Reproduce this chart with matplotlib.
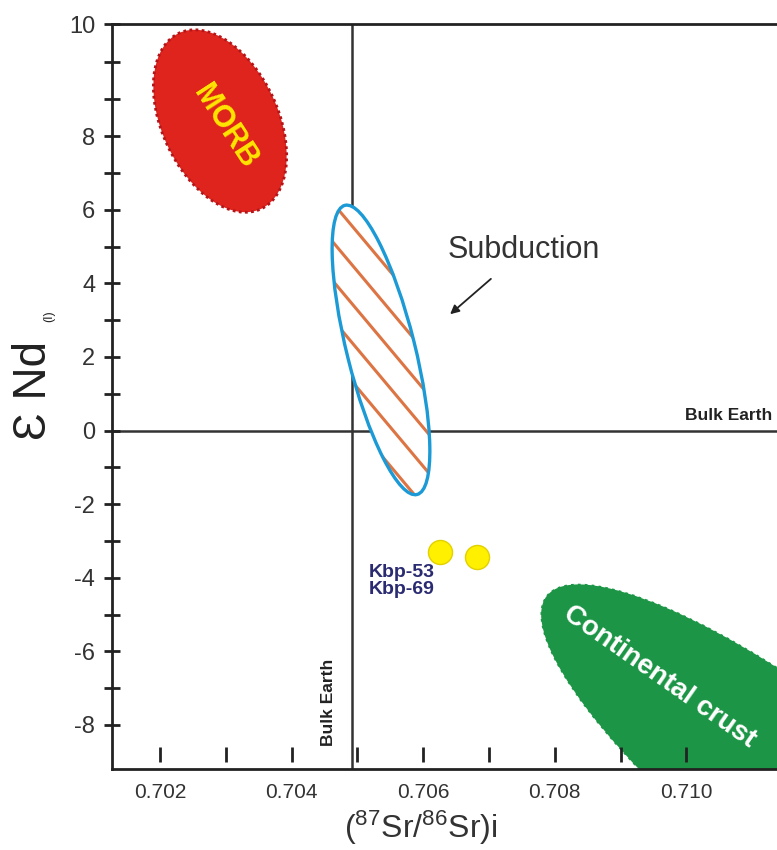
import matplotlib
matplotlib.use("Agg")
import matplotlib.pyplot as plt
import numpy as np
from matplotlib.patches import Ellipse
from matplotlib.transforms import ScaledTranslation

plt.rcParams["font.family"] = ["Liberation Sans", "DejaVu Sans"]
plt.rcParams["axes.unicode_minus"] = False
plt.rcParams["mathtext.fontset"] = "custom"
plt.rcParams["mathtext.rm"] = "Liberation Sans"
plt.rcParams["mathtext.default"] = "regular"

# samples
sr_ratio = [0.706255, 0.706822]
eps_nd = [-3.29, -3.45]
sample_labels = ["Kbp-53", "Kbp-69"]
sample_label_y = [-3.85, -4.33]

# bulk earth reference
bulk_earth_sr = 0.704913
bulk_earth_nd = 0.0

# fields: centre (sr, nd), size in inches (major, minor), angle in degrees
morb_center = (0.702911, 8.41)
morb_size = (1.94, 1.16)
morb_angle = 115
subd_center = (0.705358, 2.19)
subd_size = (2.98, 0.68)
subd_angle = 104
crust_center = (0.712062, -10.34)
crust_size = (7.0, 1.84)
crust_angle = -38

# axis ticks
x_marks = [0.702, 0.703, 0.704, 0.705, 0.706, 0.707, 0.708, 0.709, 0.710]
x_labels = [0.702, 0.704, 0.706, 0.708, 0.710]
y_major = [-8, -6, -4, -2, 0, 2, 4, 6, 8]
y_minor = [-7, -5, -3, -1, 1, 3, 5, 7, 9, 10]
xlim = (0.701269, 0.711378)
ylim = (-9.198, 11.046)

fig = plt.figure(figsize=(7.77, 8.5), dpi=100)
ax = fig.add_axes([0.14414, 0.09529, 0.85586, 0.87647])
ax.set_xlim(*xlim)
ax.set_ylim(*ylim)


def place(center):
    return fig.dpi_scale_trans + ScaledTranslation(center[0], center[1], ax.transData)


# bulk earth lines
ax.axvline(bulk_earth_sr, color="#333333", lw=1.8, zorder=1)
ax.axhline(bulk_earth_nd, color="#333333", lw=1.8, zorder=1)

# MORB
morb = Ellipse((0, 0), *morb_size, angle=morb_angle, transform=place(morb_center),
               facecolor="#de241c", edgecolor="#b3151a", lw=2, ls=(0, (1, 1.2)), zorder=2)
ax.add_patch(morb)
ax.text(0.702987, 8.25, "MORB", color="#ffe600", fontsize=22, fontweight="bold",
        rotation=-57, ha="center", va="center", rotation_mode="anchor", zorder=3)

# continental crust
crust = Ellipse((0, 0), *crust_size, angle=crust_angle, transform=place(crust_center),
                facecolor="#1c9646", edgecolor="white", lw=1, ls=(0, (3, 2)), zorder=2)
ax.add_patch(crust)
ax.text(0.709586, -6.70, "Continental crust", color="white", fontsize=20, fontweight="bold",
        rotation=-35, ha="center", va="center", rotation_mode="anchor", zorder=3)

# subduction field with hand-drawn hatching
subd = Ellipse((0, 0), *subd_size, angle=subd_angle, transform=place(subd_center),
               facecolor="white", edgecolor="none", zorder=2)
ax.add_patch(subd)
d = np.array([np.cos(np.radians(-50)), np.sin(np.radians(-50))])
n = np.array([-d[1], d[0]])
for k in np.arange(-8, 9):
    p0 = (k + 0.3) * 0.25 * n - 2 * d
    p1 = (k + 0.3) * 0.25 * n + 2 * d
    ln, = ax.plot([p0[0], p1[0]], [p0[1], p1[1]], color="#dd7443", lw=2.2,
                  transform=place(subd_center), zorder=2.5)
    ln.set_clip_path(subd)
subd_edge = Ellipse((0, 0), *subd_size, angle=subd_angle, transform=place(subd_center),
                    facecolor="none", edgecolor="#1b9ad6", lw=2.4, zorder=3)
ax.add_patch(subd_edge)

ax.text(0.707534, 4.90, "Subduction", color="#333333", fontsize=22,
        ha="center", va="center")
ax.annotate("", xy=(0.706377, 3.11), xytext=(0.707061, 4.17),
            arrowprops=dict(arrowstyle="-|>", color="#222222", lw=1.3, mutation_scale=13))

# samples
ax.scatter(sr_ratio, eps_nd, s=300, color="#fff000", edgecolor="#e2d000", lw=1, zorder=5)
for lab, ly in zip(sample_labels, sample_label_y):
    ax.text(0.705177, ly, lab, color="#2b2b72", fontsize=14, fontweight="bold",
            ha="left", va="center")

# bulk earth labels
ax.text(0.711304, 0.42, "Bulk Earth", fontsize=12.5, fontweight="bold", color="#222222",
        ha="right", va="center")
ax.text(0.704554, -7.38, "Bulk Earth", fontsize=12.5, fontweight="bold", color="#222222",
        rotation=90, ha="center", va="center")

# axes styling
for side in ["left", "bottom", "top"]:
    ax.spines[side].set_linewidth(2)
    ax.spines[side].set_color("#222222")
ax.spines["right"].set_visible(False)

ax.set_yticks(y_major + [ylim[1]])
ax.set_yticklabels([str(v) for v in y_major] + ["10"])
ax.set_yticks(y_minor, minor=True)
ax.tick_params(axis="y", which="both", direction="inout", length=12, width=2,
               color="#222222", labelsize=17, labelcolor="#333333", pad=6)

ax.set_xticks(x_labels)
ax.set_xticklabels([f"{v:.3f}" for v in x_labels])
ax.tick_params(axis="x", length=0, labelsize=15, labelcolor="#333333", pad=10)
ax.vlines(x_marks, 0.01, 0.03, transform=ax.get_xaxis_transform(), color="#222222",
          lw=2, zorder=4)

fig.text(0.542, 0.026, r"($^{87}$Sr/$^{86}$Sr)i", fontsize=23, color="#333333",
         ha="center", va="center")
fig.text(0.044, 0.541, "Ɛ Nd", fontsize=33, color="#222222", rotation=90,
         ha="center", va="center")
fig.text(0.064, 0.628, "(I)", fontsize=9, color="#222222", rotation=90,
         ha="center", va="center")

fig.savefig("out.png", dpi=100)
